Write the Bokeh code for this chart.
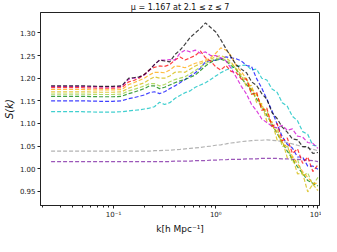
from bokeh.plotting import figure
from bokeh.models import FixedTicker, Range1d, PrintfTickFormatter
from bokeh.embed import file_html
from bokeh.resources import INLINE

k = [0.0245, 0.049, 0.0741, 0.0977, 0.120, 0.141, 0.158, 0.178, 0.200, 0.224,
     0.251, 0.282, 0.316, 0.355, 0.398, 0.447, 0.501, 0.562, 0.631, 0.708,
     0.794, 0.891, 1.0, 1.12, 1.26, 1.41, 1.58, 1.78, 2.0, 2.24,
     2.51, 2.82, 3.16, 3.55, 3.98, 4.47, 5.01, 5.62, 6.31, 7.08,
     7.94, 8.91, 10.0]

s_gray = [1.039, 1.039, 1.039, 1.039, 1.039, 1.039, 1.039, 1.039, 1.039, 1.039,
          1.040, 1.040, 1.041, 1.041, 1.042, 1.043, 1.044, 1.045, 1.046, 1.047,
          1.049, 1.050, 1.052, 1.053, 1.055, 1.057, 1.058, 1.060, 1.061, 1.062,
          1.063, 1.063, 1.064, 1.063, 1.062, 1.060, 1.058, 1.055, 1.052, 1.049,
          1.046, 1.043, 1.040]
s_purple = [1.016, 1.016, 1.016, 1.016, 1.016, 1.016, 1.016, 1.016, 1.016, 1.016,
            1.016, 1.016, 1.016, 1.016, 1.017, 1.017, 1.017, 1.017, 1.018, 1.018,
            1.018, 1.019, 1.019, 1.020, 1.020, 1.021, 1.021, 1.021, 1.022, 1.022,
            1.022, 1.023, 1.023, 1.023, 1.023, 1.022, 1.022, 1.021, 1.021, 1.020,
            1.019, 1.018, 1.016]
s_cyan = [1.126, 1.126, 1.125, 1.125, 1.126, 1.128, 1.129, 1.130, 1.132, 1.134,
          1.137, 1.147, 1.142, 1.146, 1.155, 1.162, 1.168, 1.172, 1.180, 1.185,
          1.190, 1.197, 1.205, 1.212, 1.218, 1.222, 1.226, 1.228, 1.229, 1.218,
          1.220, 1.200, 1.196, 1.176, 1.169, 1.146, 1.138, 1.116, 1.106, 1.082,
          1.076, 1.052, 1.050]
s_blue = [1.150, 1.150, 1.149, 1.149, 1.150, 1.155, 1.157, 1.160, 1.163, 1.168,
          1.170, 1.166, 1.170, 1.177, 1.183, 1.190, 1.197, 1.205, 1.212, 1.222,
          1.236, 1.239, 1.240, 1.243, 1.247, 1.245, 1.243, 1.238, 1.228, 1.226,
          1.199, 1.178, 1.154, 1.128, 1.099, 1.071, 1.054, 1.046, 1.026, 1.026,
          1.006, 1.006, 0.999]
s_green = [1.160, 1.160, 1.159, 1.159, 1.160, 1.166, 1.169, 1.173, 1.177, 1.183,
           1.183, 1.177, 1.180, 1.185, 1.190, 1.194, 1.197, 1.202, 1.207, 1.217,
           1.227, 1.235, 1.240, 1.242, 1.238, 1.228, 1.220, 1.200, 1.186, 1.174,
           1.154, 1.138, 1.118, 1.098, 1.078, 1.058, 1.039, 1.022, 1.004, 0.990,
           0.974, 0.968, 0.962]
s_olive = [1.165, 1.165, 1.164, 1.164, 1.165, 1.172, 1.175, 1.179, 1.183, 1.188,
           1.188, 1.183, 1.186, 1.192, 1.197, 1.200, 1.203, 1.210, 1.217, 1.225,
           1.232, 1.238, 1.243, 1.245, 1.240, 1.232, 1.222, 1.203, 1.199, 1.166,
           1.167, 1.131, 1.130, 1.090, 1.091, 1.049, 1.053, 1.014, 1.021, 0.984,
           0.991, 0.964, 0.981]
s_gold = [1.170, 1.170, 1.169, 1.169, 1.170, 1.178, 1.182, 1.186, 1.190, 1.197,
          1.203, 1.200, 1.200, 1.205, 1.213, 1.214, 1.213, 1.220, 1.227, 1.232,
          1.237, 1.242, 1.247, 1.250, 1.245, 1.236, 1.220, 1.207, 1.181, 1.184,
          1.146, 1.144, 1.105, 1.104, 1.064, 1.064, 1.024, 1.026, 0.989, 0.990,
          0.949, 0.966, 0.952]
s_orange = [1.175, 1.175, 1.174, 1.174, 1.175, 1.186, 1.190, 1.195, 1.200, 1.207,
            1.213, 1.213, 1.212, 1.218, 1.227, 1.226, 1.223, 1.228, 1.233, 1.236,
            1.240, 1.245, 1.255, 1.267, 1.262, 1.250, 1.228, 1.214, 1.198, 1.177,
            1.163, 1.139, 1.123, 1.097, 1.082, 1.058, 1.047, 1.028, 1.011, 0.994,
            0.981, 0.968, 0.968]
s_red = [1.179, 1.179, 1.178, 1.178, 1.179, 1.192, 1.195, 1.200, 1.208, 1.218,
         1.224, 1.227, 1.226, 1.230, 1.240, 1.247, 1.240, 1.245, 1.250, 1.260,
         1.245, 1.238, 1.225, 1.218, 1.228, 1.215, 1.213, 1.198, 1.198, 1.164,
         1.169, 1.129, 1.134, 1.094, 1.100, 1.062, 1.068, 1.034, 1.044, 1.012,
         1.026, 0.994, 1.009]
s_magenta = [1.182, 1.182, 1.181, 1.181, 1.182, 1.198, 1.200, 1.202, 1.207, 1.217,
             1.230, 1.240, 1.240, 1.241, 1.240, 1.255, 1.262, 1.258, 1.262, 1.255,
             1.258, 1.250, 1.250, 1.245, 1.238, 1.222, 1.203, 1.182, 1.165, 1.142,
             1.128, 1.110, 1.102, 1.094, 1.090, 1.096, 1.085, 1.088, 1.072, 1.070,
             1.058, 1.056, 1.045]
s_black = [1.183, 1.183, 1.182, 1.182, 1.183, 1.200, 1.201, 1.203, 1.208, 1.218,
           1.230, 1.240, 1.238, 1.236, 1.252, 1.262, 1.275, 1.290, 1.300, 1.310,
           1.322, 1.312, 1.302, 1.285, 1.265, 1.247, 1.230, 1.220, 1.212, 1.192,
           1.184, 1.166, 1.154, 1.124, 1.111, 1.092, 1.081, 1.066, 1.064, 1.049,
           1.049, 1.034, 1.036]

series = [
    (s_gray, "#999999"),
    (s_purple, "#7a1fa2"),
    (s_cyan, "#00bfbf"),
    (s_blue, "#0000ff"),
    (s_green, "#008000"),
    (s_olive, "#9acd32"),
    (s_gold, "#d4b800"),
    (s_orange, "#ffa500"),
    (s_red, "#ff0000"),
    (s_magenta, "#d000d0"),
    (s_black, "#000000"),
]

y_ticks = [0.95, 1.00, 1.05, 1.10, 1.15, 1.20, 1.25, 1.30]
x_ticks = [0.1, 1.0, 10.0]
x_tick_labels = {0.1: "10\u207b\u00b9", 1.0: "10\u2070", 10.0: "10\u00b9"}
x_minor = [0.02, 0.03, 0.04, 0.05, 0.06, 0.07, 0.08, 0.09,
           0.2, 0.3, 0.4, 0.5, 0.6, 0.7, 0.8, 0.9,
           2, 3, 4, 5, 6, 7, 8, 9]

p = figure(width=321, height=236, x_axis_type="log", output_backend="svg",
           toolbar_location=None,
           x_range=Range1d(0.0193, 10.35), y_range=Range1d(0.919, 1.345),
           min_border_left=28, min_border_right=2, min_border_top=11,
           min_border_bottom=24)

p.title.text = "\u03bc = 1.167 at 2.1 \u2264 z \u2264 7"
p.title.align = "center"
p.title.text_font = "DejaVu Sans"
p.title.text_font_size = "8px"
p.title.text_font_style = "normal"
p.title.text_color = "#111111"
p.title.standoff = 1
p.title.offset = 0

for ys, c in series:
    p.line(k, ys, line_color=c, line_width=1.2, line_dash="4 2", line_alpha=0.75)

p.xgrid.visible = False
p.ygrid.visible = False
p.outline_line_color = "#222222"
p.outline_line_width = 1

p.xaxis.ticker = FixedTicker(ticks=x_ticks, minor_ticks=x_minor)
p.xaxis.major_label_overrides = x_tick_labels
p.yaxis.ticker = FixedTicker(ticks=y_ticks)
p.yaxis.formatter = PrintfTickFormatter(format="%.2f")

for ax in (p.xaxis[0], p.yaxis[0]):
    ax.major_label_text_font = "DejaVu Sans"
    ax.major_label_text_font_size = "7px"
    ax.major_label_text_color = "#222222"
    ax.axis_line_color = "#222222"
    ax.major_tick_line_color = "#222222"
    ax.minor_tick_line_color = "#222222"
    ax.major_tick_out = 3
    ax.major_tick_in = 0
    ax.minor_tick_out = 2
    ax.minor_tick_in = 0
    ax.axis_label_text_font = "DejaVu Sans"
    ax.axis_label_text_font_style = "normal"
    ax.axis_label_text_color = "#111111"
    ax.major_label_standoff = 2
    ax.axis_label_standoff = 2

p.yaxis.axis_label = "S(k)"
p.yaxis.axis_label_text_font_style = "italic"
p.yaxis.axis_label_text_font_size = "10px"
p.xaxis.axis_label = "k[h Mpc\u207b\u00b9]"
p.xaxis.axis_label_text_font_size = "9px"

open("out.html", "w").write(file_html(p, INLINE))
